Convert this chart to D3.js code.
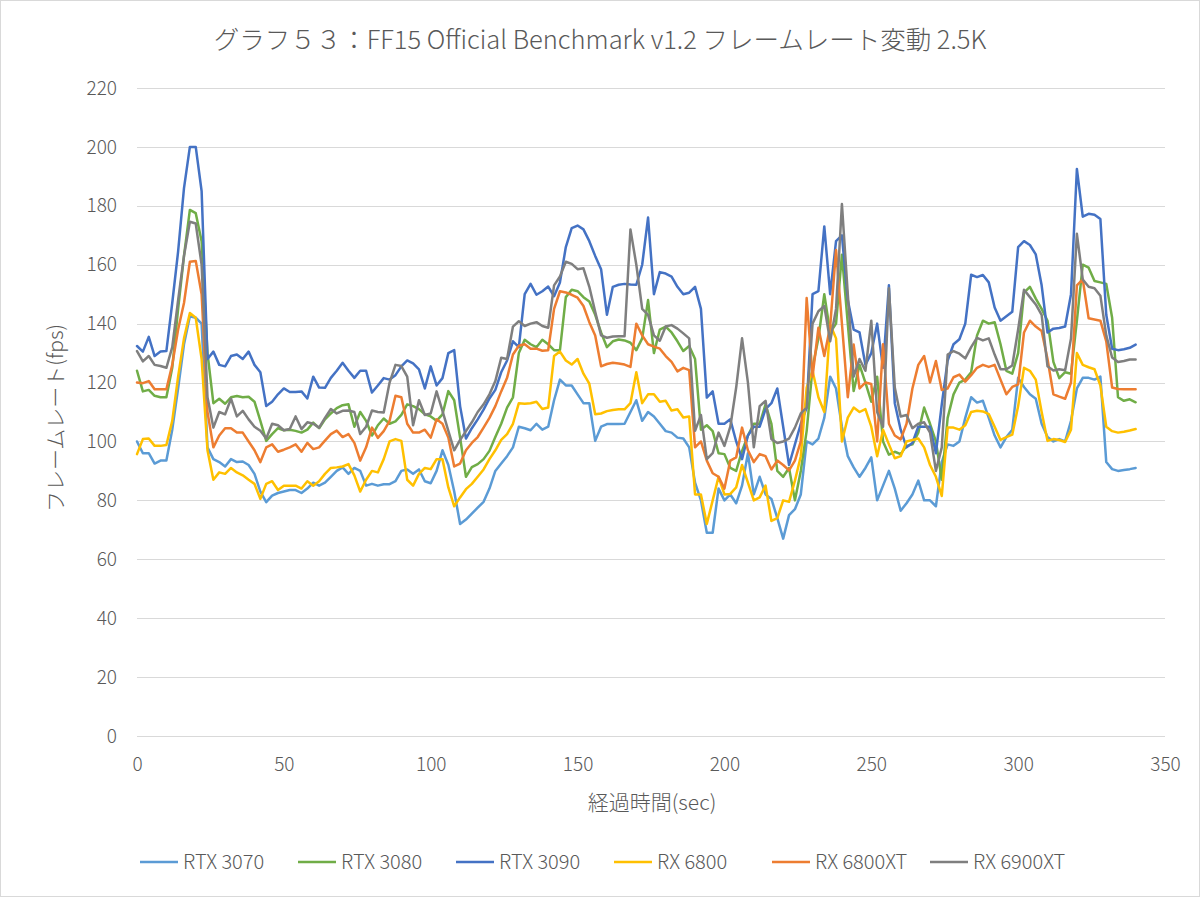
<!DOCTYPE html>
<html><head><meta charset="utf-8">
<script src="https://cdn.jsdelivr.net/npm/d3@7"></script>
<style>body{margin:0;background:#fff} svg{display:block}</style>
</head><body><svg id="c" width="1200" height="897"></svg>
<script>
const seconds = [0,2,4,6,8,10,12,14,16,18,20,22,24,26,28,30,32,34,36,38,40,42,44,46,48,50,52,54,56,58,60,62,64,66,68,70,72,74,76,78,80,82,84,86,88,90,92,94,96,98,100,102,104,106,108,110,112,114,116,118,120,122,124,126,128,130,132,134,136,138,140,142,144,146,148,150,152,154,156,158,160,162,164,166,168,170,172,174,176,178,180,182,184,186,188,190,192,194,196,198,200,202,204,206,208,210,212,214,216,218,220,222,224,226,228,230,232,234,236,238,240,242,244,246,248,250,252,254,256,258,260,262,264,266,268,270,272,274,276,278,280,282,284,286,288,290,292,294,296,298,300,302,304,306,308,310,312,314,316,318,320,322,324,326,328,330,332,334,336,338,340];

const rtx3070 = [100,96,96,92.5,93.5,93.5,104,118,133,142.5,
142,140,98,94,93,91.5,94,93,93.2,92,
89,83,79.4,81.6,82.5,83,83.5,83.5,82.5,84,
86,85,86,88,90,91.2,89,91,90,85,
85.6,85,85.5,85.5,86.5,90,90.5,89,90.5,86.5,
85.8,90,97,92,83,72,73.5,75.5,77.5,79.5,
84,90,92.5,95,98,105,104.5,103.8,106,104,
105,114,121,119,119,116,113,113,100.2,105,
105.9,105.9,105.9,106,110,114,107,110,108.5,106,
103.5,103,101.3,101,98,86,80,69,69,84,
80,82,79,85,96,82,88,82,80.5,74,
67,75,77,82,100,99,101,108,122,118,
105,95,91.2,88,91,94.6,80,85,90,84,
76.5,79,82,86.7,80,80,78,93,99,98.5,
100,108,115,113.2,113.8,108,102,98,101.5,104,
121.6,118.5,116,114.5,106,101.5,100,100.8,100,107,
118,121.6,121.6,121,122,93,90.6,90,90.3,90.6,
91];

const rtx3080 = [124,117,117.5,115.5,115,115,125,145,163,178.6,
177.5,168,130,113,114.5,112.8,115,115.4,115,115.2,
113.5,107,100.2,102.5,104.5,103.8,104,103.6,103,104,
106.4,104.5,107.5,109.5,111.3,112.3,112.6,105,110,107,
102,105.5,107.8,106,106.8,109,112.6,112,111,109.2,
108.5,107,109.2,117.1,114,101.3,88,91.3,92.3,94,
96.8,101.5,106,111.5,115,130,134.5,133,132,134.5,
133,131,131,149,151.5,151,149,147.5,143,137,
132,134,134.6,134.3,133.5,131,135,148,130,138,
139,137,134,130.7,132.4,128,104,105.5,103.5,96,
95.7,91,90,96.8,102,106,106,112.6,106,90,
88,91,80,90,103.6,125,135,150,137,140,
163.4,140,117.1,126,120,113.5,122,100,95.5,96.5,
95.7,98.5,99,103,111.5,106,100,87,108,116,
120,121,123.5,136,141,140,140.5,133,124,123,
130,150.5,152.5,148.5,145,141,127,121.5,123.5,123,
141,160,159,154.5,154,153.5,142,115,113.8,114.3,
113.3];

const rtx3090 = [132.4,130.5,135.5,129,130.5,130.7,147,164.5,186,200,
200,185,128,130.5,126,125.5,129,129.5,128,130.5,
126,123.5,112,113.5,116,118,116.8,116.8,117,114.6,
122,118.3,118.2,121.6,124,126.7,124,121.6,124,124,
116.6,119,121.5,121,122.5,125.5,127.5,126.5,124.5,118,
125.5,119,121.5,130,131,112,101,104.5,107.5,110.8,
114.6,117.5,123.5,127.5,134,132,150,153.5,149.8,151,
152.6,149.3,154,166,172.4,173.3,172,168,163,158.5,
143,152.5,153.2,153.5,153.3,153.2,160,176,150,157.5,
157,156,152.5,150,150.5,152.5,145,114.9,117,106,
106,107.5,100,94,102,105,105,111,113,118,
105,92,99,106,111.5,150,151,173,150,168,
170,148,138,137,126,130,140,125,153,113,
104,98,99.5,105,105,105,96,112.6,127.5,133,
134.7,140,156.6,155.8,156.5,154,145.5,141,142.5,144,
166,168,166.7,163.5,153,137,138.3,138.5,139,150,
192.5,176.3,177.3,177,175.5,143,131.5,131,131.3,131.8,
132.9];

const rx6800 = [95.7,100.8,101,98.5,98.5,98.8,107,122,135,143.6,
142,128,97,87,89.5,89,91,89.5,88.5,87,
85.6,80.5,85.6,86.5,83.5,85,85,85,84,86.5,
85,86.5,89,91,91.2,91.5,92.3,88.5,83,87,
90,89.5,94,100,100.8,100.2,87,85,89,91,
90.6,94,94,84.4,78,81,83.8,85.6,88,90.5,
94,97,100.5,102.5,106,113,112.8,113,113.5,111,
111.5,129,130.5,127.5,126.1,128,123,119.6,109.2,109.5,
110.3,110.7,110.9,110.9,113,123.5,113,116,116,113.5,
113.8,110.5,110.9,108.1,108.5,82,82,72,80,88,
82,82.2,84.4,92,86,80,81,85,73,74,
80,79.5,86.7,95,118.3,124,115,110,139.7,135,
100,108.1,111.5,110,111,105,95,104,99,94.3,
95,100,100.5,101,98,92,88,81.5,104.7,104.7,
104,105.5,110,110.4,110.2,109.3,105,100.5,101.5,102.3,
112,125,124,121,110,100.2,100.8,100.5,99.8,104,
130,126,125.2,124.5,119,105,103.5,103,103.3,103.7,
104.2];

const rx6800xt = [120,119.8,120.5,117.7,117.7,117.7,126,138,147,161,
161.3,150,110,98,102,104.5,104.5,103,103,100,
97,93,98,99,96.5,97.2,98,99,96.5,99.5,
97.4,98,100.3,102.5,103.7,101.5,102.5,99.5,93.5,98,
104.7,101.2,103.5,107,115.5,115,106,103,103,104,
101.3,107.5,106,101.3,91.5,92.5,97,99.5,101.5,104.7,
108,112,117,121.6,129.5,132.5,133,131.5,131.5,130.8,
131,145,151,150.6,149.8,148.8,146,140.5,136,125.5,
126.3,126.7,126.5,126.1,125.3,140,136,133,132.2,131.5,
129,127,123.8,125,124.2,98,100,93.5,89.2,88,
84,93.5,94.6,104.7,97,93,95.7,95,90.5,93.5,
92,90.2,93.5,100,148.7,122,138.6,129,139,165,
140,115,132.9,118,120,119.5,100,133,106,102,
100.7,106,118,126,129,120,127.3,117.5,118,121.8,
122.7,120.3,122.5,125,126,125.3,126,121,116,118.5,
119.4,137,141,139,137.5,128,116,115.2,114.5,120,
153,155,141.8,141.4,141,134,118.3,117.8,117.7,117.7,
117.7];

const rx6900xt = [130.7,127.2,129,126,125.6,125,132,148,163,174.6,
174,160,115,104.7,110,109.2,114.5,108.5,110.4,107.5,
105,103.6,101,106,105.5,103.8,104.2,108.5,104.2,106.5,
106,104.7,108,111,109.5,110.4,110.5,110,102.5,105,
110.5,110,109.8,120,126,125.6,122,105.5,114,109,
109.5,117,110.4,103.6,97,100.5,103.5,106.5,110,112.6,
116,120.5,128.4,128,139,140.8,139.2,140,140.5,139.2,
138.6,153,156,161,160.3,158.5,158.8,152.5,144,136,
135.2,135.6,135.7,135.7,172,160,145,143,136,134.2,
139,139.5,138.3,136.7,135,103.6,109,94,96,103,
98.5,105,118.3,135,120,98,112,113.8,100.8,99.5,
100,101,104.7,109.5,111.5,140,144.2,146,134,145,
180.6,150,122,128,124,141,110,105,152,118.3,
108.5,109,104.5,106,106.5,103,90,98,129.5,130.7,
129.8,128.2,132,135.2,134.3,135,129.5,124.5,124.5,125.8,
138,151.5,149,146.5,143,125.5,124.1,124.5,124.2,135,
170.5,155,152.5,152,149.5,136,128.5,127,127.3,127.8,
127.8];

const seriesNames = ["RTX 3070","RTX 3080","RTX 3090","RX 6800","RX 6800XT","RX 6900XT"];
const seriesValues = [rtx3070, rtx3080, rtx3090, rx6800, rx6800xt, rx6900xt];
const seriesColors = ["#5B9BD5","#70AD47","#4472C4","#FFC000","#ED7D31","#7F7F7F"];
const yTicks = [0,20,40,60,80,100,120,140,160,180,200,220];
const xTicks = [0,50,100,150,200,250,300,350];

const titleText = "グラフ５３：FF15 Official Benchmark v1.2 フレームレート変動 2.5K";
const yLabel = "フレームレート(fps)";
const xLabel = "経過時間(sec)";

const FONT = "'Noto Sans CJK JP','Noto Sans',sans-serif";
const TXT = "#595959";

const svg = d3.select("#c");
svg.append("rect").attr("x",0.5).attr("y",0.5).attr("width",1199).attr("height",896)
  .attr("fill","#fff").attr("stroke","#D9D9D9");

const x = d3.scaleLinear().domain([0,350]).range([137,1165]);
const y = d3.scaleLinear().domain([0,220]).range([736,88]);

// gridlines
svg.append("g").selectAll("line").data(yTicks).join("line")
  .attr("x1",x(0)).attr("x2",x(350))
  .attr("y1",d=>Math.round(y(d))+0.5).attr("y2",d=>Math.round(y(d))+0.5)
  .attr("stroke","#D9D9D9").attr("stroke-width",1);

// axes
const yAxis = svg.append("g").attr("transform",`translate(${x(0)},0)`)
  .call(d3.axisLeft(y).tickValues(yTicks).tickSize(0).tickPadding(20));
yAxis.select(".domain").remove();
yAxis.selectAll("text").attr("font-family",FONT).attr("font-size",19).attr("font-weight",300).attr("fill",TXT);

const xAxis = svg.append("g").attr("transform",`translate(0,${y(0)})`)
  .call(d3.axisBottom(x).tickValues(xTicks).tickSize(0).tickPadding(22));
xAxis.select(".domain").remove();
xAxis.selectAll("text").attr("font-family",FONT).attr("font-size",19).attr("font-weight",300).attr("fill",TXT);

// lines
const line = d3.line().x((d,i)=>x(seconds[i])).y(d=>y(d));
svg.append("g").selectAll("path").data(seriesValues).join("path")
  .attr("d",d=>line(d)).attr("fill","none")
  .attr("stroke",(d,i)=>seriesColors[i]).attr("stroke-width",2.5)
  .attr("stroke-linejoin","round").attr("stroke-linecap","round");

// title
svg.append("text").attr("x",600).attr("y",49).attr("text-anchor","middle")
  .attr("font-family",FONT).attr("font-size",25.5).attr("font-weight",300).attr("fill",TXT).text(titleText);

// axis labels
svg.append("text").attr("transform",`translate(63,418) rotate(-90)`)
  .attr("text-anchor","middle").attr("font-family",FONT).attr("font-size",21).attr("font-weight",300).attr("fill",TXT).text(yLabel);
svg.append("text").attr("x",652).attr("y",810).attr("text-anchor","middle")
  .attr("font-family",FONT).attr("font-size",21).attr("font-weight",300).attr("fill",TXT).text(xLabel);

// legend
const legendX = [140,298,456,614,772,930];
const lg = svg.append("g").selectAll("g").data(seriesNames).join("g")
  .attr("transform",(d,i)=>`translate(${legendX[i]},862)`);
lg.append("line").attr("x1",0).attr("x2",38).attr("y1",0).attr("y2",0)
  .attr("stroke",(d,i)=>seriesColors[i]).attr("stroke-width",2.5);
lg.append("text").attr("x",43).attr("y",7).attr("font-family",FONT).attr("font-size",20).attr("font-weight",300)
  .attr("fill",TXT).text(d=>d);
</script></body></html>
